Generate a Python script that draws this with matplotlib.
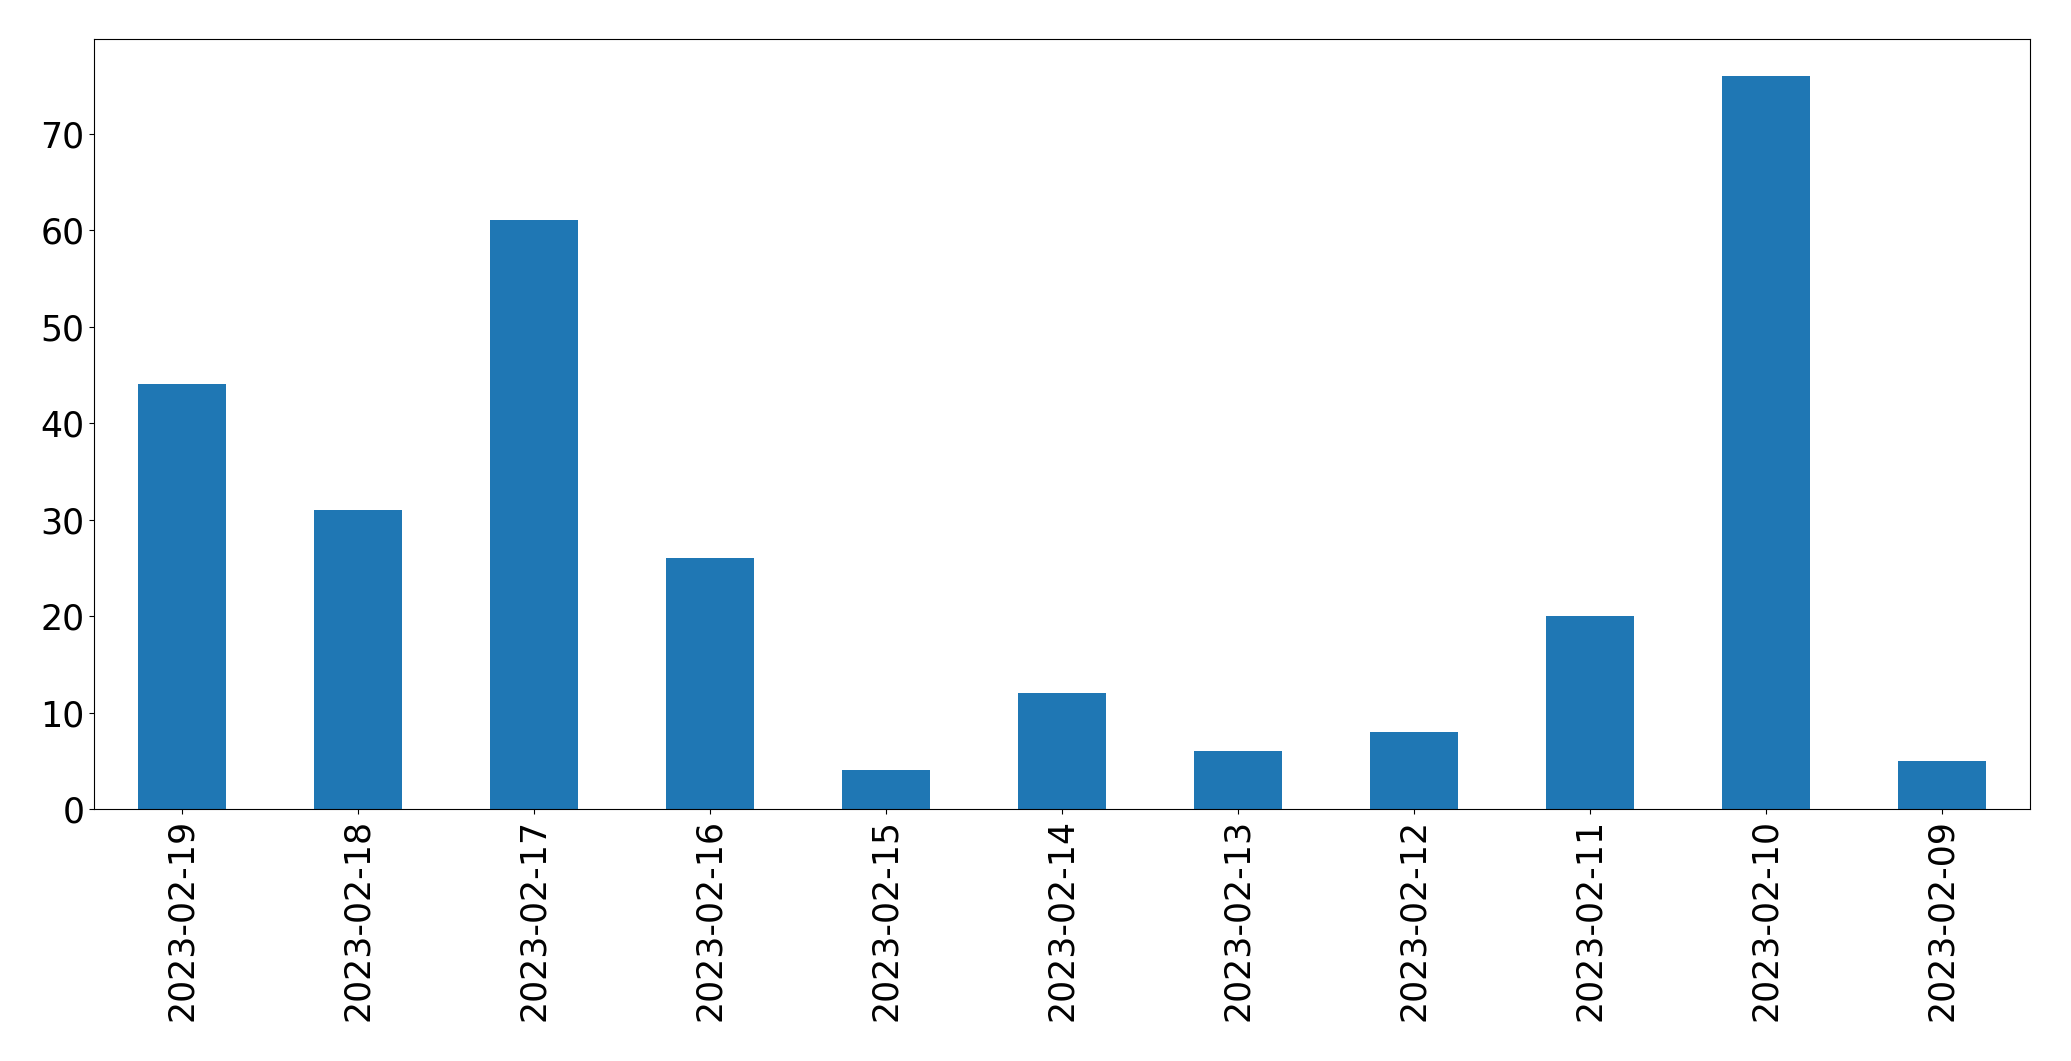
import matplotlib
matplotlib.use('Agg')
import matplotlib.pyplot as plt
import numpy as np

dates = ['2023-02-19', '2023-02-18', '2023-02-17', '2023-02-16', '2023-02-15',
         '2023-02-14', '2023-02-13', '2023-02-12', '2023-02-11', '2023-02-10',
         '2023-02-09']
counts = [44, 31, 61, 26, 4, 12, 6, 8, 20, 76, 5]

fig = plt.figure(figsize=(20.71, 10.61), dpi=100)
ax = fig.add_axes([0.0454, 0.2375, 0.9346, 0.7257])

x = np.arange(len(dates))
ax.bar(x, counts, width=0.5, color='#1f77b4')
ax.set_xlim(-0.5, len(dates) - 0.5)
ax.set_xticks(x)
ax.set_xticklabels(dates, rotation=90)
ax.tick_params(axis='both', labelsize=25)

fig.savefig('out.png', dpi=100)
